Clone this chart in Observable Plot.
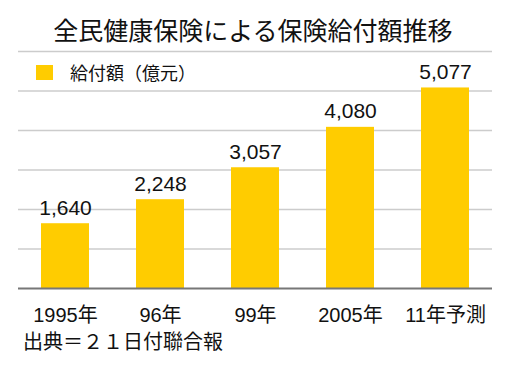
<!DOCTYPE html>
<html>
<head>
<meta charset="utf-8">
<script src="https://cdn.jsdelivr.net/npm/d3@7"></script>
<script src="https://cdn.jsdelivr.net/npm/@observablehq/plot@0.6"></script>
<style>
  html, body { margin: 0; padding: 0; background: #fff; }
  body { width: 510px; height: 367px; position: relative; overflow: hidden;
         font-family: "Liberation Sans", "Noto Sans CJK JP", sans-serif; color: #111; }
  #title { position: absolute; left: 0; width: 506px; top: 14px; text-align: center;
           font-family: "Noto Sans CJK JP", sans-serif; font-size: 25px; line-height: 30px; }
  #legend { position: absolute; left: 36px; top: 60px; height: 24px; display: flex; align-items: center;
            font-family: "Noto Sans CJK JP", sans-serif; font-size: 18px; }
  #legend .sw { width: 17px; height: 15px; background: #FFCC00; margin-right: 17px; }
  #chart { position: absolute; left: 0; top: 40px; }
  #caption { position: absolute; left: 23px; top: 331px; font-family: "Noto Sans CJK JP", sans-serif;
             font-size: 20px; line-height: 20px; }
</style>
</head>
<body>
<div id="title">全民健康保険による保険給付額推移</div>
<div id="chart"></div>
<div id="legend"><div class="sw"></div><span>給付額（億元）</span></div>
<div id="caption">出典＝２１日付聯合報</div>
<script>
const categories = ["1995年", "96年", "99年", "2005年", "11年予測"];
const values = [1640, 2248, 3057, 4080, 5077];
const gridTicks = [1000, 2000, 3000, 4000, 5000, 6000];

const data = categories.map((c, i) => ({cat: c, value: values[i]}));
const fmt = d3.format(",");

const chart = Plot.plot({
  width: 510,
  height: 290,
  marginTop: 11,
  marginBottom: 42,
  marginLeft: 18,
  marginRight: 18,
  style: {fontFamily: '"Liberation Sans", "Noto Sans CJK JP", sans-serif', color: "#111", background: "transparent"},
  x: {domain: categories, paddingInner: 0.5, paddingOuter: 0.23, axis: null},
  y: {domain: [0, 6000], axis: null},
  marks: [
    Plot.ruleY(gridTicks, {stroke: "#cccccc", strokeWidth: 1.5}),
    Plot.barY(data, {x: "cat", y: "value", fill: "#FFCC00"}),
    Plot.ruleY([0], {stroke: "#777777", strokeWidth: 2}),
    Plot.text(data, {x: "cat", y: "value", text: d => fmt(d.value), dy: -9, lineAnchor: "bottom", fontSize: 21, fill: "#111"}),
    Plot.axisX({tickSize: 0, tickPadding: 19, fontSize: 20, label: null})
  ]
});
document.getElementById("chart").appendChild(chart);
</script>
</body>
</html>
